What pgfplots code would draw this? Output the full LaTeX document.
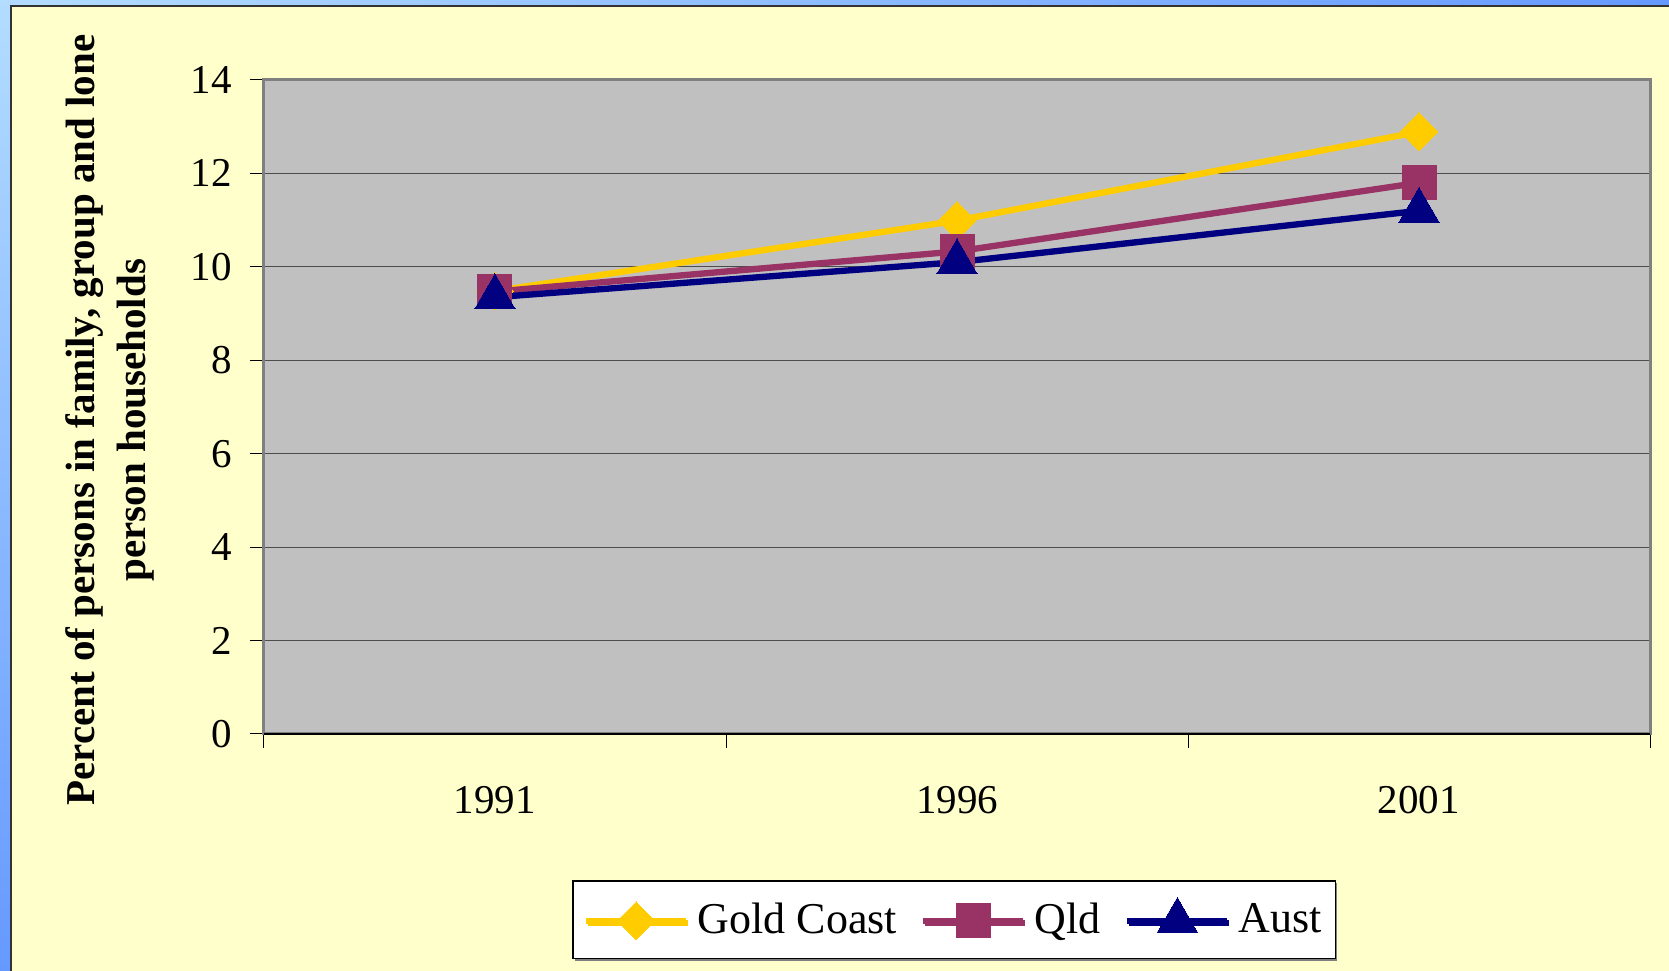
\documentclass[border=0pt]{standalone}
\usepackage{pgfplots}
\pgfplotsset{compat=1.18}
\usepackage{fontspec}
\setmainfont{Liberation Serif}
\usetikzlibrary{shadows, shadings}
\definecolor{bgyellow}{HTML}{FFFFCC}
\definecolor{plotgray}{HTML}{C0C0C0}
\definecolor{framegray}{HTML}{808080}
\definecolor{gcgold}{HTML}{FFCC00}
\definecolor{qldmaroon}{HTML}{993366}
\definecolor{austnavy}{HTML}{000080}
\definecolor{edgeblue}{HTML}{6699FF}
\definecolor{paleblue}{HTML}{B3DDFF}

\begin{document}
\begin{tikzpicture}
\useasboundingbox (0,0) rectangle (500.7pt,291.3pt);
% slide background
\shade[upper left=paleblue, upper right=edgeblue, lower left=edgeblue, lower right=edgeblue]
  (0,0) rectangle (500.7pt,291.3pt);
\fill[bgyellow] (3.3pt,0) rectangle (500.7pt,289.5pt);
\draw[black!80, line width=0.6pt] (3.3pt,0) -- (3.3pt,289.5pt) -- (500.7pt,289.5pt);

\begin{axis}[
    at={(79.2pt,71.1pt)}, anchor=south west,
    width=415.8pt, height=196.2pt, scale only axis,
    axis background/.style={fill=plotgray},
    axis line style={framegray, line width=0.9pt},
    xmin=0.5, xmax=3.5, ymin=0, ymax=14,
    xtick={0.5,1.5,2.5,3.5}, xticklabels={},
    extra x ticks={1,2,3},
    extra x tick labels={1991,1996,2001},
    extra x tick style={major tick length=0pt, grid=none,
        xticklabel style={anchor=base, yshift=-24pt}},
    ytick={0,2,...,14},
    tick pos=left,
    tick align=outside,
    major tick length=4.2pt,
    tick style={black, line width=0.3pt},
    ymajorgrids,
    grid style={black!70, line width=0.35pt},
    ticklabel style={font=\fontsize{12.3}{14}\selectfont},
    /pgf/number format/assume math mode=true,
    yticklabel style={anchor=east, xshift=-2pt},
    ylabel={Percent of persons in family, group and lone\\person households},
    ylabel style={at={(rel axis cs:-0.111,0.48)}, anchor=center, align=center,
        font=\fontsize{12.3}{15.3}\selectfont\bfseries},
    legend columns=3,
    legend style={at={(rel axis cs:0.498,-0.284)}, anchor=center,
        draw=black, fill=white, line width=0.4pt,
        drop shadow={shadow xshift=0.6pt, shadow yshift=-0.6pt, fill=black!50, opacity=1},
        font=\fontsize{13.2}{15}\selectfont, inner xsep=3pt, inner ysep=5pt,
        nodes={inner sep=1pt},
        /tikz/every odd column/.append style={column sep=1.5pt},
        /tikz/every even column/.append style={column sep=6pt}},
    legend image code/.code={
        \draw[mark repeat=2, mark phase=2, #1] plot coordinates {(0pt,0pt) (15pt,0pt) (30pt,0pt)};
    },
    after end axis/.code={
        \draw[black, line width=0.4pt] (rel axis cs:0,0) -- (rel axis cs:1,0);
    },
]
\addplot[gcgold, line width=1.9pt, mark=square*, mark size=4pt,
    mark options={solid, rotate=45, fill=gcgold, draw=gcgold, line width=0pt}]
    coordinates {(1,9.48) (2,10.99) (3,12.89)};
\addplot[qldmaroon, line width=1.9pt, mark=square*, mark size=5.1pt,
    mark options={solid, fill=qldmaroon, draw=qldmaroon, line width=0pt}]
    coordinates {(1,9.47) (2,10.33) (3,11.80)};
\addplot[austnavy, line width=1.9pt, mark=triangle*, mark size=7pt,
    mark options={solid, fill=austnavy, draw=austnavy, line width=0pt}]
    coordinates {(1,9.35) (2,10.10) (3,11.20)};
\legend{Gold Coast, Qld, Aust}
\end{axis}
\end{tikzpicture}
\end{document}
